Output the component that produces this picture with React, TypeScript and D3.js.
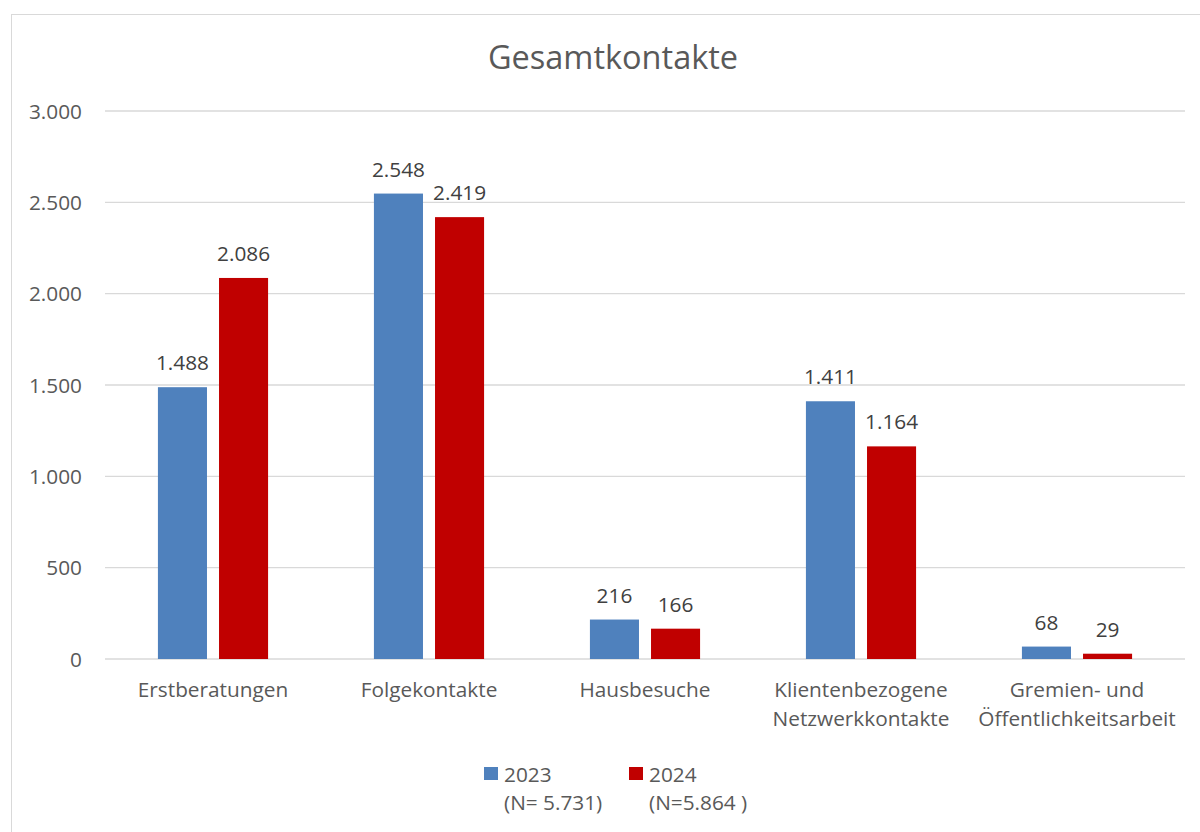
import { useEffect, useRef } from "react";
import * as d3 from "d3";

const categories = [
  ["Erstberatungen"],
  ["Folgekontakte"],
  ["Hausbesuche"],
  ["Klientenbezogene", "Netzwerkkontakte"],
  ["Gremien- und", "Öffentlichkeitsarbeit"],
];
const seriesNames = ["2023", "2024"];
const seriesNotes = ["(N= 5.731)", "(N=5.864 )"];
const values2023 = [1488, 2548, 216, 1411, 68];
const values2024 = [2086, 2419, 166, 1164, 29];
const yTicks = [0, 500, 1000, 1500, 2000, 2500, 3000];
const colors = ["#4F81BD", "#C00000"];

const W = 1200;
const H = 832;
const font = "'Open Sans', Lato, sans-serif";
const fs = "20.8px";

export default function App() {
  const svgRef = useRef<SVGSVGElement>(null);

  useEffect(() => {
    if (!svgRef.current) return;
    const svg = d3.select(svgRef.current);
    svg.selectAll("*").remove();

    const de = d3.formatLocale({ decimal: ",", thousands: ".", grouping: [3], currency: ["", " €"] });
    const fmt = de.format(",d");

    const left = 105, right = 1185, top = 111, bottom = 659;

    // chart frame (right/bottom edges run off the page)
    svg.append("rect").attr("x", 11.5).attr("y", 14.5).attr("width", 1210).attr("height", 840)
      .attr("fill", "#fff").attr("stroke", "#d9d9d9").attr("stroke-width", 1);

    svg.append("text").attr("x", 613).attr("y", 69).attr("text-anchor", "middle")
      .style("font-family", font).style("font-size", "32.5px").attr("fill", "#595959")
      .text("Gesamtkontakte");

    const x = d3.scaleBand().domain(categories.map((d, i) => String(i))).range([left, right]).padding(0);
    const bw = x.bandwidth();
    const xInner = d3.scaleBand().domain(seriesNames).range([bw * 0.245, bw * 0.755]).paddingInner(0.197).paddingOuter(0);
    const y = d3.scaleLinear().domain([0, 3000]).range([bottom, top]);

    const grid = svg.append("g");
    yTicks.forEach((t) => {
      grid.append("line").attr("x1", left).attr("x2", right).attr("y1", y(t)).attr("y2", y(t))
        .attr("stroke", "#d9d9d9").attr("stroke-width", t === 0 ? 1.5 : 1.3);
      grid.append("text").attr("x", 82).attr("y", y(t) + 7.5).attr("text-anchor", "end")
        .style("font-family", font).style("font-size", fs).attr("fill", "#595959")
        .text(fmt(t));
    });

    const series = [values2023, values2024];
    series.forEach((vals, si) => {
      const g = svg.append("g");
      vals.forEach((v, ci) => {
        const bx = (x(String(ci)) as number) + (xInner(seriesNames[si]) as number);
        g.append("rect").attr("x", bx).attr("y", y(v)).attr("width", xInner.bandwidth())
          .attr("height", bottom - y(v)).attr("fill", colors[si]);
        g.append("text").attr("x", bx + xInner.bandwidth() / 2).attr("y", y(v) - 17)
          .attr("text-anchor", "middle").style("font-family", font).style("font-size", fs)
          .attr("fill", "#404040").text(fmt(v));
      });
    });

    categories.forEach((lines, ci) => {
      const cx = (x(String(ci)) as number) + bw / 2;
      lines.forEach((line, li) => {
        svg.append("text").attr("x", cx).attr("y", 697 + li * 29).attr("text-anchor", "middle")
          .style("font-family", font).style("font-size", fs).attr("fill", "#595959").text(line);
      });
    });

    const legendX = [484, 629];
    seriesNames.forEach((name, si) => {
      const lg = svg.append("g").attr("transform", `translate(${legendX[si]},0)`);
      lg.append("rect").attr("x", 0).attr("y", 767).attr("width", 14).attr("height", 13).attr("fill", colors[si]);
      lg.append("text").attr("x", 20).attr("y", 782).style("font-family", font).style("font-size", fs)
        .attr("fill", "#595959").text(name);
      lg.append("text").attr("x", 20).attr("y", 810).style("font-family", font).style("font-size", fs)
        .attr("fill", "#595959").text(seriesNotes[si]);
    });
  }, []);

  return (
    <div style={{ position: "absolute", left: 0, top: 0, width: W, height: H, overflow: "hidden", background: "#fff" }}>
      <svg ref={svgRef} width={W} height={H} style={{ display: "block" }} />
    </div>
  );
}
